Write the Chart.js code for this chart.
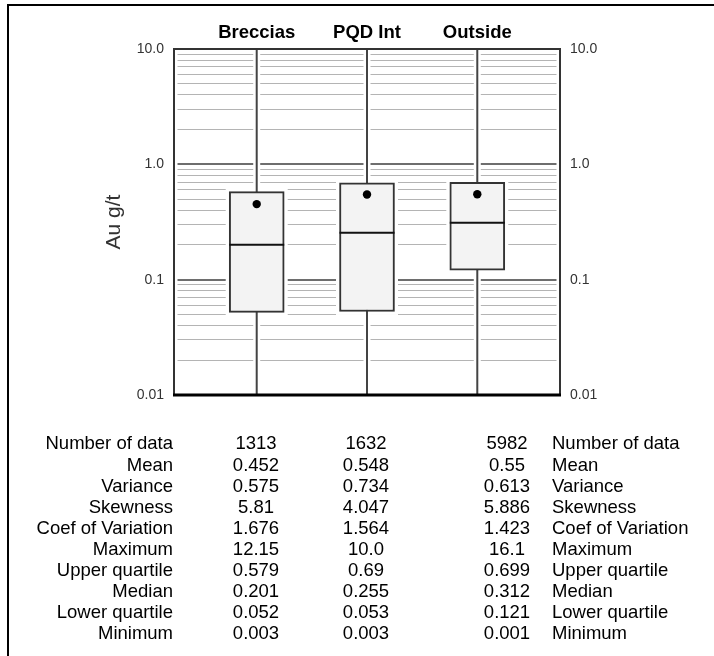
<!DOCTYPE html>
<html>
<head>
<meta charset="utf-8">
<title>Au g/t by domain</title>
<script src="https://cdn.jsdelivr.net/npm/chart.js@4.4.1/dist/chart.umd.min.js"></script>
<style>
  body { margin: 0; background: #fff; overflow: hidden; }
  #wrap { position: relative; width: 714px; height: 656px; overflow: hidden; }
  #plot { position: absolute; left: 0; top: 0; }
  #frame {
    position: absolute; left: 7px; top: 4px; width: 800px; height: 800px;
    border-left: 2.5px solid #000; border-top: 2.5px solid #000;
    pointer-events: none;
  }
  #stats div {
    position: absolute;
    font-family: 'Liberation Sans', Arial, sans-serif;
    font-size: 18.5px;
    line-height: 21.1px;
    color: #000;
    white-space: nowrap;
  }
</style>
</head>
<body>
<div id="wrap">
  <canvas id="plot" width="714" height="656"></canvas>
  <div id="stats"></div>
  <div id="frame"></div>
</div>
<script>
// domains and their summary statistics (kept as printed in the table)
const categories = ['Breccias', 'PQD Int', 'Outside'];
const statNames = ['Number of data', 'Mean', 'Variance', 'Skewness', 'Coef of Variation',
  'Maximum', 'Upper quartile', 'Median', 'Lower quartile', 'Minimum'];

const numberOfData = ['1313', '1632', '5982'];
const mean = ['0.452', '0.548', '0.55'];
const variance = ['0.575', '0.734', '0.613'];
const skewness = ['5.81', '4.047', '5.886'];
const coefVariation = ['1.676', '1.564', '1.423'];
const maximum = ['12.15', '10.0', '16.1'];
const upperQuartile = ['0.579', '0.69', '0.699'];
const median = ['0.201', '0.255', '0.312'];
const lowerQuartile = ['0.052', '0.053', '0.121'];
const minimum = ['0.003', '0.003', '0.001'];

// log axis labels
const yTickValues = [0.01, 0.1, 1, 10];
const yTickLabels = ['0.01', '0.1', '1.0', '10.0'];

// grid lines at every 1..9 step inside each decade
const gridValues = [];
for (let d = 0; d < yTickValues.length - 1; d++) {
  for (let k = 1; k <= 9; k++) gridValues.push(k * yTickValues[d]);
}
gridValues.push(yTickValues[yTickValues.length - 1]);

function majorIndex(v) {
  return yTickValues.findIndex(t => Math.abs(Math.log10(v) - Math.log10(t)) < 1e-6);
}

function buildStatsTable() {
  const statRows = [numberOfData, mean, variance, skewness, coefVariation,
    maximum, upperQuartile, median, lowerQuartile, minimum];
  const colCenters = [256, 366, 507];
  const stats = document.getElementById('stats');

  const addCell = (text, top, style) => {
    const el = document.createElement('div');
    el.textContent = text;
    el.style.cssText = `top:${top}px;${style}`;
    stats.appendChild(el);
  };

  statNames.forEach((name, r) => {
    const top = 432.4 + r * 21.1;
    addCell(name, top, 'left:0;width:173px;text-align:right');
    statRows[r].forEach((v, i) => {
      addCell(v, top, `left:${colCenters[i] - 50}px;width:100px;text-align:center`);
    });
    addCell(name, top, 'left:552px');
  });
}

// white halo around whiskers/boxes so grid lines stop short of them, plus the plot frame
const boxDecor = {
  id: 'boxDecor',
  beforeDatasetsDraw(chart) {
    const { ctx, chartArea: a, scales: { x, y } } = chart;
    ctx.save();
    ctx.fillStyle = '#fff';
    ctx.fillRect(a.left, a.top, 3.5, a.bottom - a.top);
    ctx.fillRect(a.right - 3.5, a.top, 3.5, a.bottom - a.top);
    categories.forEach((c, i) => {
      const px = x.getPixelForValue(i);
      ctx.fillRect(px - 3.5, a.top, 7, a.bottom - a.top);
      const yTop = y.getPixelForValue(Number(upperQuartile[i]));
      const yBot = y.getPixelForValue(Number(lowerQuartile[i]));
      ctx.fillRect(px - 31, yTop - 3.5, 62, yBot - yTop + 7);
    });
    ctx.restore();
  },
  afterDraw(chart) {
    const { ctx, chartArea: a } = chart;
    ctx.save();
    ctx.strokeStyle = '#333';
    ctx.lineWidth = 2;
    ctx.strokeRect(a.left, a.top, a.right - a.left, a.bottom - a.top);
    ctx.strokeStyle = '#000';
    ctx.lineWidth = 3;
    ctx.beginPath();
    ctx.moveTo(a.left - 1, a.bottom);
    ctx.lineTo(a.right + 1, a.bottom);
    ctx.stroke();
    ctx.restore();
  }
};

function initializeChart() {
  const whiskers = categories.map((c, i) => ({
    type: 'line',
    data: [{ x: i, y: Number(minimum[i]) }, { x: i, y: Number(maximum[i]) }],
    borderColor: '#444',
    borderWidth: 2,
    pointRadius: 0,
    order: 3
  }));

  const valueTicks = {
    autoSkip: false,
    padding: 10,
    color: '#333',
    font: { family: "'Liberation Sans', Arial, sans-serif", size: 14 },
    callback: v => {
      const k = majorIndex(v);
      return k >= 0 ? yTickLabels[k] : '';
    }
  };

  new Chart(document.getElementById('plot'), {
    type: 'bar',
    data: {
      datasets: [
        {
          type: 'scatter',
          data: categories.map((c, i) => ({ x: i, y: Number(mean[i]) })),
          pointRadius: 4.2,
          backgroundColor: '#000',
          borderWidth: 0,
          order: 0
        },
        {
          type: 'scatter',
          data: categories.map((c, i) => ({ x: i, y: Number(median[i]) })),
          pointStyle: 'line',
          pointRadius: 27.5,
          borderColor: '#111',
          borderWidth: 2,
          order: 1
        },
        {
          type: 'bar',
          data: categories.map((c, i) => ({
            x: i, y: [Number(lowerQuartile[i]), Number(upperQuartile[i])]
          })),
          backgroundColor: '#f3f3f3',
          borderColor: '#333',
          borderWidth: 2,
          borderSkipped: false,
          barThickness: 55,
          order: 2
        },
        ...whiskers
      ]
    },
    options: {
      responsive: false,
      animation: false,
      events: [],
      layout: { padding: { top: 0, left: 0, right: 0, bottom: 261 } },
      plugins: { legend: { display: false }, tooltip: { enabled: false } },
      scales: {
        x: {
          type: 'linear',
          position: 'top',
          min: -0.75,
          max: 2.75,
          offset: false,
          bounds: 'ticks',
          afterBuildTicks: s => { s.ticks = categories.map((c, i) => ({ value: i })); },
          afterFit: s => { s.height = 49; },
          grid: { display: false, drawTicks: false },
          border: { display: false },
          ticks: {
            padding: 5,
            color: '#000',
            font: { family: "'Liberation Sans', Arial, sans-serif", size: 18.5, weight: 'bold' },
            callback: v => categories[v] ?? ''
          }
        },
        y: {
          type: 'logarithmic',
          position: 'left',
          min: 0.01,
          max: 10,
          afterBuildTicks: s => { s.ticks = gridValues.map(v => ({ value: v })); },
          afterFit: s => { s.width = 174; },
          grid: {
            drawTicks: false,
            color: c => majorIndex(c.tick.value) >= 0 ? '#6e6e6e' : '#b4b4b4',
            lineWidth: c => majorIndex(c.tick.value) >= 0 ? 2 : 1
          },
          border: { display: false },
          ticks: valueTicks,
          title: {
            display: true,
            text: 'Au g/t',
            color: '#333',
            font: { family: "'Liberation Sans', Arial, sans-serif", size: 21 },
            padding: { top: 102, bottom: 0 }
          }
        },
        y2: {
          type: 'logarithmic',
          position: 'right',
          min: 0.01,
          max: 10,
          afterBuildTicks: s => { s.ticks = gridValues.map(v => ({ value: v })); },
          afterFit: s => { s.width = 154; },
          grid: { display: false, drawTicks: false },
          border: { display: false },
          ticks: valueTicks
        }
      }
    },
    plugins: [boxDecor]
  });
}

buildStatsTable();
initializeChart();
</script>
</body>
</html>
